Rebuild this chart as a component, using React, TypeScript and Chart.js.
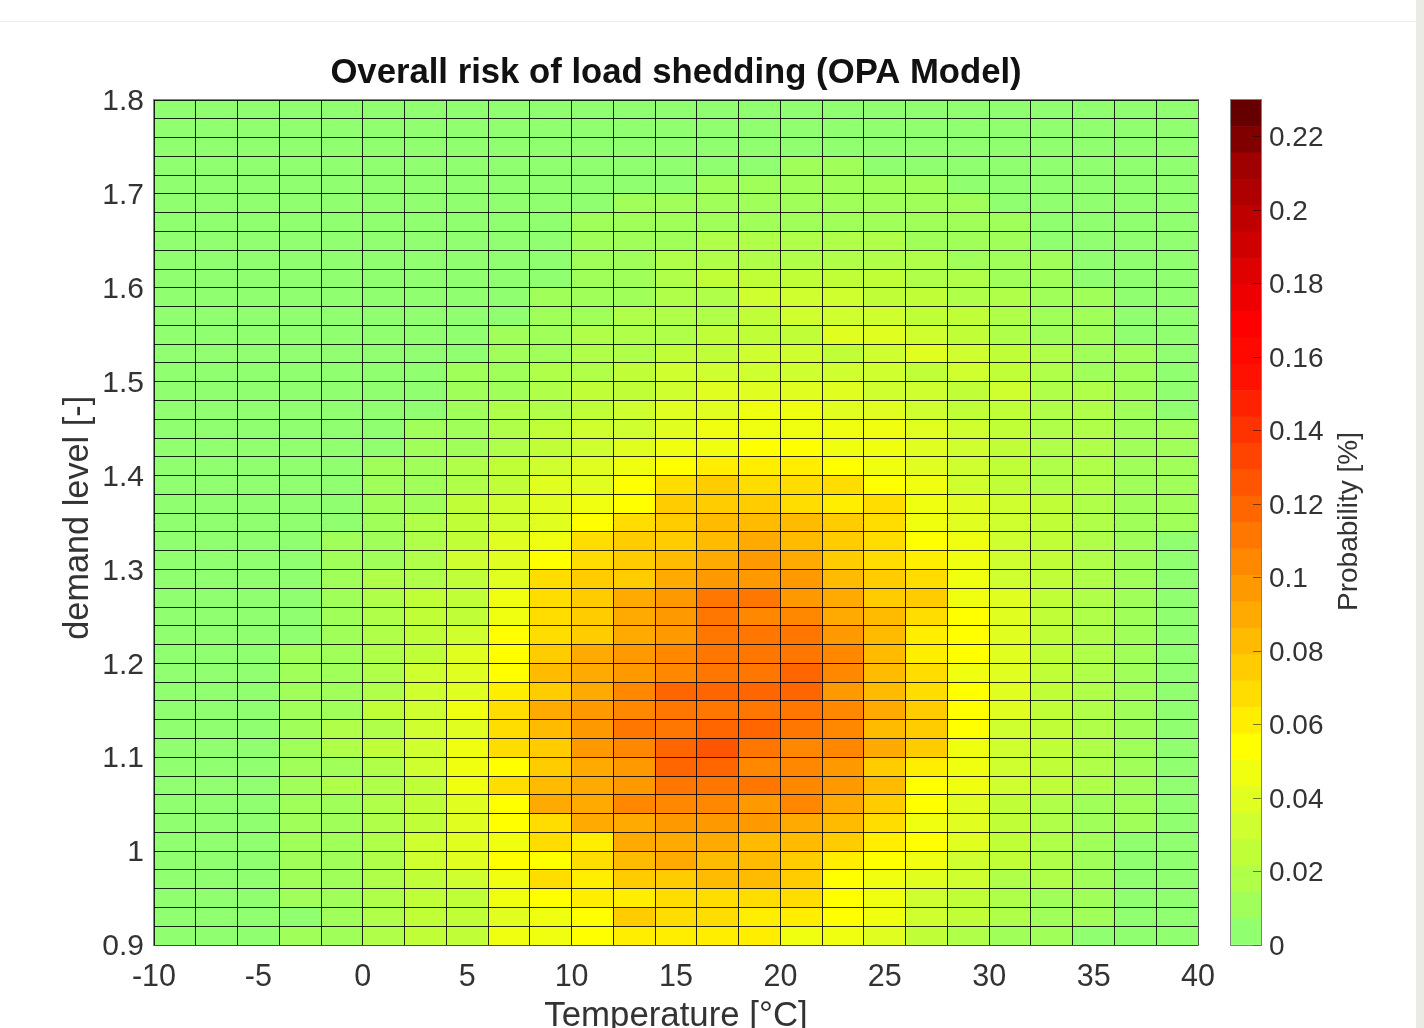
import React, { useEffect, useRef } from "react";
import { Chart, registerables } from "chart.js";

Chart.register(...registerables);

// Chart text
const chartTitle = "Overall risk of load shedding (OPA Model)";
const xAxisTitle = "Temperature [°C]";
const yAxisTitle = "demand level [-]";
const colorbarTitle = "Probability [%]";

// Cell centres along the temperature axis and the lower edge of each demand row
const temperatureCentres = [-9, -7, -5, -3, -1, 1, 3, 5, 7, 9, 11, 13, 15, 17, 19, 21, 23, 25, 27, 29, 31, 33, 35, 37, 39];
const demandLowerEdges = [
  1.78, 1.76, 1.74, 1.72, 1.7, 1.68, 1.66, 1.64, 1.62, 1.6, 1.58, 1.56, 1.54, 1.52, 1.5,
  1.48, 1.46, 1.44, 1.42, 1.4, 1.38, 1.36, 1.34, 1.32, 1.3, 1.28, 1.26, 1.24, 1.22, 1.2,
  1.18, 1.16, 1.14, 1.12, 1.1, 1.08, 1.06, 1.04, 1.02, 1, 0.98, 0.96, 0.94, 0.92, 0.9,
];

// Probability x 1000, one list per demand row, top row first
const d178 = [4,4,4,4,4,4,4,4,4,4,4,4,4,4,4,4,4,4,4,4,4,4,4,4,4];
const d176 = [4,4,4,4,4,4,4,4,4,4,4,4,4,4,4,4,4,4,4,4,4,4,4,4,4];
const d174 = [4,4,4,4,4,4,4,4,4,4,4,4,4,4,4,4,4,4,4,4,4,4,4,4,4];
const d172 = [4,4,4,4,4,4,4,4,4,4,4,4,4,4,4,11,11,4,4,4,4,4,4,4,4];
const d170 = [4,4,4,4,4,4,4,4,4,4,4,4,4,11,11,11,11,11,11,4,4,4,4,4,4];
const d168 = [4,4,4,4,4,4,4,4,4,4,4,11,11,11,11,11,11,11,11,11,4,4,4,4,4];
const d166 = [4,4,4,4,4,4,4,4,4,4,11,11,11,11,11,11,11,11,11,11,11,4,4,4,4];
const d164 = [4,4,4,4,4,4,4,4,4,4,11,11,11,18,18,18,18,18,11,11,11,4,4,4,4];
const d162 = [4,4,4,4,4,4,4,4,4,4,11,11,18,18,18,18,18,18,18,11,11,11,4,4,4];
const d160 = [4,4,4,4,4,4,4,4,4,4,11,11,18,25,25,25,25,25,18,18,11,11,4,4,4];
const d158 = [4,4,4,4,4,4,4,4,4,11,11,11,18,18,32,32,32,25,25,18,18,11,11,4,4];
const d156 = [4,4,4,4,4,4,4,4,4,11,11,18,18,18,25,32,32,32,25,25,18,11,11,4,4];
const d154 = [4,4,4,4,4,4,4,4,11,11,18,18,18,25,25,25,40,40,32,25,18,11,11,4,4];
const d152 = [4,4,4,4,4,4,4,4,11,11,18,18,25,25,32,32,25,32,40,32,25,18,11,11,4];
const d150 = [4,4,4,4,4,4,4,11,11,18,18,25,32,32,32,32,32,32,25,32,25,18,11,11,4];
const d148 = [4,4,4,4,4,4,4,11,11,18,25,25,32,40,40,40,40,32,32,25,32,18,18,11,4];
const d146 = [4,4,4,4,4,4,4,11,18,18,25,32,40,40,47,47,40,40,32,25,25,18,18,11,4];
const d144 = [4,4,4,4,4,4,11,11,18,25,32,32,40,47,47,47,47,47,40,32,25,18,18,11,11];
const d142 = [4,4,4,4,4,4,11,11,18,25,32,40,47,47,54,54,47,47,40,32,25,18,18,11,11];
const d140 = [4,4,4,4,4,11,11,18,25,32,40,47,54,61,61,61,54,47,40,32,25,18,18,11,11];
const d138 = [4,4,4,4,4,11,11,18,25,40,40,54,68,76,68,68,68,54,47,32,25,18,18,11,11];
const d136 = [4,4,4,4,4,11,11,25,32,40,47,54,76,76,76,68,61,68,47,40,32,25,18,11,11];
const d134 = [4,4,4,4,4,11,18,25,32,40,54,68,76,83,83,83,76,68,47,40,32,25,18,11,11];
const d132 = [4,4,4,4,11,11,18,25,40,47,68,76,76,83,90,83,76,68,54,47,32,25,18,11,4];
const d130 = [4,4,4,4,11,11,18,32,40,54,68,76,83,90,97,90,76,68,61,47,32,25,18,11,4];
const d128 = [4,4,4,4,11,18,18,25,40,68,76,76,90,97,97,97,83,76,68,47,32,25,18,11,4];
const d126 = [4,4,4,4,11,18,25,25,47,68,76,90,97,112,112,97,90,76,76,47,40,25,18,11,4];
const d124 = [4,4,4,4,11,18,25,25,47,68,76,90,97,112,104,104,90,83,68,54,40,25,18,11,4];
const d122 = [4,4,4,4,11,18,25,32,54,68,76,90,97,112,112,112,97,83,61,54,40,25,18,11,4];
const d120 = [4,4,4,11,11,18,25,40,54,76,90,97,104,112,112,112,104,83,61,54,40,25,18,11,4];
const d118 = [4,4,4,11,11,18,32,40,54,83,90,97,104,112,112,119,104,83,68,47,40,25,18,11,4];
const d116 = [4,4,4,11,11,18,32,40,61,76,90,104,119,119,119,119,97,83,68,54,40,25,18,11,4];
const d114 = [4,4,4,11,11,25,32,47,68,90,97,104,112,112,112,112,104,90,76,54,40,25,18,11,4];
const d112 = [4,4,4,11,18,18,32,40,68,83,97,112,112,119,119,112,104,83,76,54,32,25,18,11,4];
const d110 = [4,4,4,11,18,25,32,47,68,76,97,104,119,126,112,104,104,90,76,47,32,25,18,11,4];
const d108 = [4,4,4,11,11,18,32,47,54,76,90,97,119,119,104,104,97,76,61,47,32,25,18,11,4];
const d106 = [4,4,4,11,18,18,25,47,68,83,90,97,112,112,112,104,97,83,54,47,32,25,18,11,4];
const d104 = [4,4,4,11,11,18,25,40,54,90,90,104,104,104,97,104,90,76,54,40,25,18,11,11,4];
const d102 = [4,4,4,11,11,18,25,40,54,68,90,90,97,97,97,90,83,68,47,40,25,18,11,11,4];
const d100 = [4,4,4,11,11,18,32,40,47,68,61,90,90,90,83,83,76,61,54,40,25,18,11,4,4];
const d098 = [4,4,4,11,11,18,32,40,54,54,68,83,90,83,83,76,61,54,47,32,25,18,11,4,4];
const d096 = [4,4,4,11,11,18,25,32,47,68,61,76,76,83,83,76,54,47,40,32,18,18,11,4,4];
const d094 = [4,4,4,11,11,18,25,25,47,54,61,61,68,68,68,68,54,47,32,25,18,11,11,4,4];
const d092 = [4,4,4,4,11,18,25,25,40,47,54,76,68,68,61,61,54,47,32,25,18,11,11,4,4];
const d090 = [4,4,4,11,11,18,25,25,47,47,54,61,61,61,61,47,47,40,25,18,11,11,4,4,4];

const demandRows = [
  d178, d176, d174, d172, d170, d168, d166, d164, d162, d160, d158, d156, d154, d152, d150,
  d148, d146, d144, d142, d140, d138, d136, d134, d132, d130, d128, d126, d124, d122, d120,
  d118, d116, d114, d112, d110, d108, d106, d104, d102, d100, d098, d096, d094, d092, d090,
];

// Axis ranges
const xMin = -10, xMax = 40, yMin = 0.9, yMax = 1.8;
const colorMax = 0.23;
const rowHeight = 0.02;

// The colormap, lowest level first
const palette = [
  "#90ff70", "#a0ff58", "#b0ff48", "#c0ff38", "#d0ff30", "#e0ff20", "#f0ff10", "#ffff00",
  "#ffee00", "#ffdd00", "#ffcc00", "#ffbb00", "#ffaa00", "#ff9900", "#ff8800", "#ff7700",
  "#ff6600", "#ff5500", "#ff4400", "#ff3300", "#ff2200", "#ff1100", "#ff0800", "#ff0000",
  "#ef0000", "#df0000", "#cf0000", "#bf0000", "#af0000", "#9f0000", "#800000", "#660000",
];

const levelColor = (p: number) =>
  palette[Math.min(palette.length - 1, Math.floor((p / colorMax) * palette.length))];

const FONT = "'Liberation Sans', Arial, Helvetica, sans-serif";
const TEXT = "#333333";

const framePlugin = {
  id: "frame",
  afterDraw(chart: any) {
    const { left, top, width, height } = chart.chartArea;
    const ctx = chart.ctx;
    ctx.save();
    ctx.strokeStyle = "rgba(90,90,90,0.75)";
    ctx.lineWidth = 1;
    ctx.strokeRect(Math.round(left) - 0.5, Math.round(top) - 0.5, Math.round(width) + 1, Math.round(height) + 1);
    ctx.restore();
  },
};

const colorbarTitlePlugin = {
  id: "colorbarTitle",
  afterDraw(chart: any) {
    const ctx = chart.ctx;
    const { top, bottom } = chart.chartArea;
    ctx.save();
    ctx.translate(124, (top + bottom) / 2 - 1);
    ctx.rotate(-Math.PI / 2);
    ctx.font = `28px ${FONT}`;
    ctx.fillStyle = TEXT;
    ctx.textAlign = "center";
    ctx.textBaseline = "middle";
    ctx.fillText(colorbarTitle, 0, 0);
    ctx.restore();
  },
};

export default function App() {
  const mainRef = useRef<HTMLCanvasElement>(null);
  const barRef = useRef<HTMLCanvasElement>(null);

  useEffect(() => {
    document.body.style.margin = "0";
    document.body.style.overflow = "hidden";
    document.body.style.background = "#ffffff";

    const datasets = demandRows.map((row, r) => ({
      label: `demand ${demandLowerEdges[r]}`,
      data: row.map((p, c) => ({
        x: temperatureCentres[c],
        y: [demandLowerEdges[r], demandLowerEdges[r] + rowHeight],
        p: p / 1000,
      })),
      backgroundColor: row.map((p) => levelColor(p / 1000)),
      borderWidth: 0,
      grouped: false,
      barPercentage: 1,
      categoryPercentage: 1,
    }));

    const main = new Chart(mainRef.current!, {
      type: "bar",
      data: { datasets: datasets as any },
      plugins: [framePlugin],
      options: {
        animation: false,
        responsive: false,
        devicePixelRatio: 1,
        layout: { padding: { left: 0, right: 26, top: 0, bottom: 0 } },
        plugins: {
          legend: { display: false },
          tooltip: { enabled: false },
          title: {
            display: true,
            text: chartTitle,
            fullSize: false,
            color: "#111111",
            font: { family: FONT, size: 34.7, weight: "bold" },
            padding: { top: 53, bottom: 5.4 },
          },
        },
        scales: {
          x: {
            type: "linear",
            min: xMin,
            max: xMax,
            offset: false,
            grid: { display: false, drawTicks: false, offset: false },
            border: { display: false },
            afterFit: (s: any) => { s.height = 83; },
            ticks: {
              stepSize: 5,
              padding: 14,
              maxRotation: 0,
              autoSkip: false,
              color: TEXT,
              font: { family: FONT, size: 30.5 },
            },
            title: {
              display: true,
              text: xAxisTitle,
              color: TEXT,
              font: { family: FONT, size: 34.8 },
              padding: { top: 0, bottom: -9 },
            },
          },
          y: {
            type: "linear",
            min: yMin,
            max: yMax,
            grid: { display: false, drawTicks: false },
            border: { display: false },
            afterFit: (s: any) => { s.width = 154; },
            ticks: {
              stepSize: 0.1,
              padding: 10,
              labelOffset: 2,
              autoSkip: false,
              color: TEXT,
              font: { family: FONT, size: 30 },
              callback: (v: any) => String(+Number(v).toFixed(1)),
            },
            title: {
              display: true,
              text: ` ${yAxisTitle}`,
              color: TEXT,
              font: { family: FONT, size: 34.3 },
              padding: { top: 58, bottom: 0 },
            },
          },
          meshX: {
            type: "linear",
            axis: "x",
            position: "top",
            min: xMin,
            max: xMax,
            offset: false,
            afterFit: (s: any) => { s.height = 0; },
            border: { display: false },
            grid: { z: 1, offset: false, drawTicks: false, color: "rgba(0,0,0,0.85)", lineWidth: 1 },
            ticks: { display: false, stepSize: 2, autoSkip: false },
          },
          meshY: {
            type: "linear",
            axis: "y",
            position: "right",
            min: yMin,
            max: yMax,
            afterFit: (s: any) => { s.width = 0; },
            border: { display: false },
            grid: { z: 1, drawTicks: false, color: "rgba(0,0,0,0.85)", lineWidth: 1 },
            ticks: { display: false, stepSize: rowHeight, autoSkip: false },
          },
        },
      } as any,
    });

    const step = colorMax / palette.length;
    const bar = new Chart(barRef.current!, {
      type: "bar",
      data: {
        labels: [colorbarTitle],
        datasets: palette.map((color, i) => ({
          label: `level ${i}`,
          data: [[i * step, (i + 1) * step]],
          backgroundColor: color,
          borderWidth: 0,
          grouped: false,
          barPercentage: 1,
          categoryPercentage: 1,
        })) as any,
      },
      plugins: [framePlugin, colorbarTitlePlugin],
      options: {
        animation: false,
        responsive: false,
        devicePixelRatio: 1,
        layout: { padding: { left: 6, right: 0, top: 100, bottom: 83 } },
        plugins: { legend: { display: false }, tooltip: { enabled: false } },
        scales: {
          x: { display: false, offset: true },
          y: {
            type: "linear",
            position: "right",
            min: 0,
            max: colorMax,
            afterFit: (s: any) => { s.width = 154; },
            border: { display: false },
            grid: {
              z: 1,
              drawOnChartArea: false,
              drawTicks: true,
              tickLength: -8,
              tickColor: "rgba(0,0,0,0.5)",
            },
            ticks: {
              stepSize: 0.02,
              includeBounds: false,
              padding: 16,
              labelOffset: 2,
              autoSkip: false,
              color: TEXT,
              font: { family: FONT, size: 28 },
              callback: (v: any) => String(+Number(v).toFixed(2)),
            },
          },
        },
      } as any,
    });

    return () => {
      main.destroy();
      bar.destroy();
    };
  }, []);

  return (
    <div style={{ position: "absolute", left: 0, top: 0, width: 1424, height: 1028, overflow: "hidden", background: "#fff" }}>
      <div style={{ position: "absolute", left: 0, top: 21, width: 1416, height: 1, background: "#ececec" }} />
      <div style={{ position: "absolute", left: 1416, top: 0, width: 8, height: 1028, background: "#e9ebe4" }} />
      <canvas ref={mainRef} width={1229} height={1028} style={{ position: "absolute", left: 0, top: 0 }} />
      <canvas ref={barRef} width={190} height={1028} style={{ position: "absolute", left: 1225, top: 0 }} />
    </div>
  );
}
